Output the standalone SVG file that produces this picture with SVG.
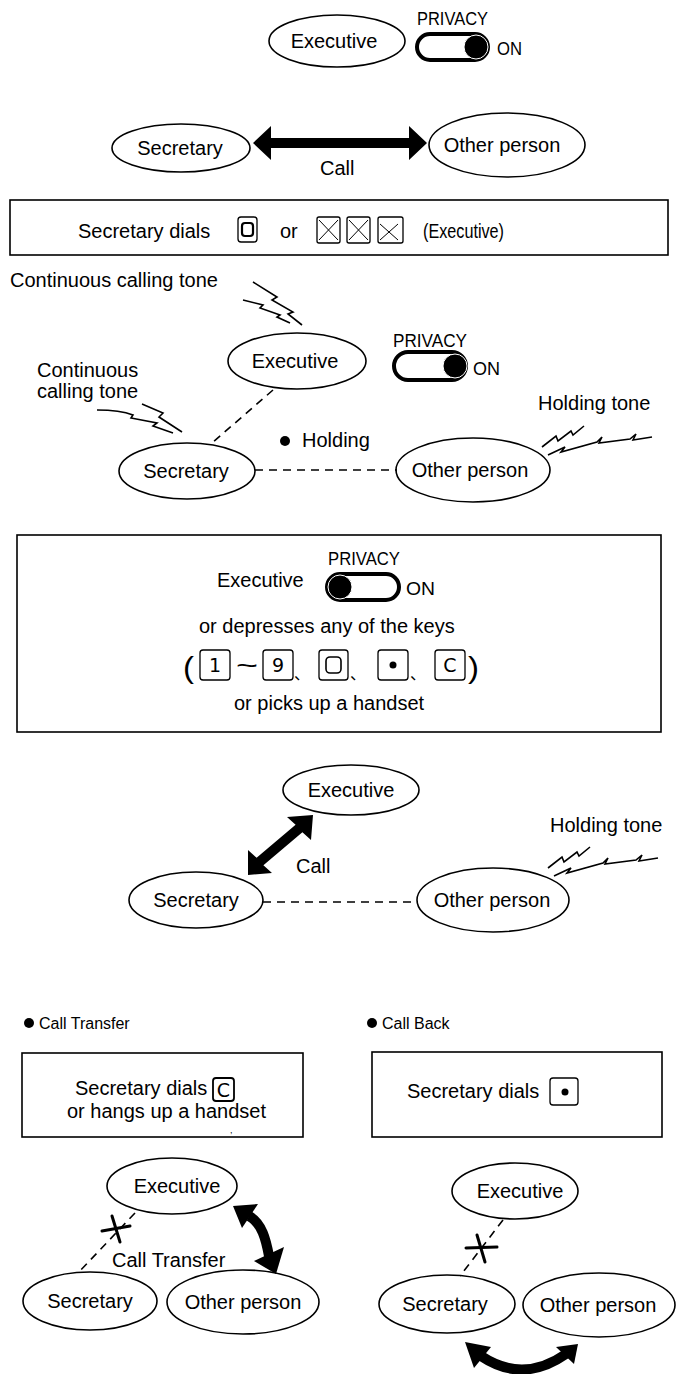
<svg xmlns="http://www.w3.org/2000/svg" width="678" height="1374" viewBox="0 0 678 1374">
<style>
text{font-family:"Liberation Sans",Arial,"Noto Sans CJK JP",sans-serif;fill:#000}
.lbl{font-size:20px;text-anchor:middle}
.t{font-size:20px}
.hd{font-size:16px}
.sm{font-size:18px}
.ell{fill:#fff;stroke:#000;stroke-width:1.6}
.box{fill:none;stroke:#000;stroke-width:1.6}
.dash{fill:none;stroke:#000;stroke-width:1.6;stroke-dasharray:8 6}
.tone{fill:none;stroke:#000;stroke-width:1.6;stroke-linejoin:miter}
.tog{fill:#fff;stroke:#000;stroke-width:4}
.knob{fill:#000;stroke:#fff;stroke-width:1}
.key{fill:#fff;stroke:#000;stroke-width:1.3}
.kt{font-family:"DejaVu Sans",sans-serif;font-size:19px;text-anchor:middle}
.xm{stroke:#000;stroke-width:1}
.cut{stroke:#000;stroke-width:3;stroke-linecap:round}
.cjk{font-family:"Noto Sans CJK JP",sans-serif;font-size:16px}
</style>
<defs>
<g id="holdtone">
<path class="tone" d="M542 447 L556 436 L558 441 L571 431 L573 435 L584 426"/>
<path class="tone" d="M548 455 L565 447 L561 452 L597 442 L602 437 L599 443 L630 439 L636 434 L633 440 L652 437"/>
</g>
</defs>

<!-- Section 0: Executive with privacy ON -->
<g id="exec-top">
<ellipse class="ell" cx="337" cy="41" rx="68" ry="26"/>
<text class="lbl" x="334" y="48">Executive</text>
</g>
<g id="privacy-top">
<text class="sm" x="417" y="25" textLength="71" lengthAdjust="spacingAndGlyphs">PRIVACY</text>
<rect class="tog" x="417" y="34" width="71" height="26" rx="13"/>
<circle class="knob" cx="476" cy="47" r="12"/>
<text class="sm" x="497" y="55" textLength="25" lengthAdjust="spacingAndGlyphs">ON</text>
</g>

<!-- Section 1 -->
<g id="sec-1">
<ellipse class="ell" cx="181" cy="148" rx="69" ry="24"/>
<text class="lbl" x="180" y="155">Secretary</text>
</g>
<g id="other-1">
<ellipse class="ell" cx="507" cy="145" rx="78" ry="32"/>
<text class="lbl" x="502" y="152">Other person</text>
</g>
<text class="t" x="320" y="175">Call</text>
<g id="box-1">
<rect class="box" x="10" y="200" width="658" height="55"/>
<text class="t" x="78" y="238">Secretary dials</text>
<rect class="key" x="238" y="217" width="19" height="25" rx="3"/>
<rect x="242" y="223" width="11" height="13" rx="3" fill="none" stroke="#000" stroke-width="2.2"/>
<text class="t" x="280" y="238">or</text>
<rect class="key" x="317" y="217" width="23" height="26" rx="2"/>
<line class="xm" x1="319" y1="220" x2="338" y2="240"/><line class="xm" x1="338" y1="220" x2="319" y2="240"/>
<rect class="key" x="347" y="217" width="23" height="26" rx="2"/>
<line class="xm" x1="349" y1="220" x2="368" y2="240"/><line class="xm" x1="368" y1="220" x2="349" y2="240"/>
<rect class="key" x="378" y="217" width="25" height="26" rx="2"/>
<line class="xm" x1="380" y1="224" x2="398" y2="240"/><line class="xm" x1="398" y1="224" x2="380" y2="240"/>
<text class="t" x="423" y="238" textLength="81" lengthAdjust="spacingAndGlyphs">(Executive)</text>
</g>

<!-- Section 2 -->
<g id="exec-2">
<ellipse class="ell" cx="297" cy="361" rx="69" ry="28"/>
<text class="lbl" x="295" y="368">Executive</text>
</g>
<g id="sec-2">
<ellipse class="ell" cx="187" cy="471" rx="68" ry="28"/>
<text class="lbl" x="186" y="478">Secretary</text>
</g>
<g id="other-2">
<ellipse class="ell" cx="473" cy="470" rx="77" ry="32"/>
<text class="lbl" x="470" y="477">Other person</text>
</g>
<g id="privacy-2">
<text class="sm" x="393" y="347" textLength="74" lengthAdjust="spacingAndGlyphs">PRIVACY</text>
<rect class="tog" x="394" y="352" width="72" height="28" rx="14"/>
<circle class="knob" cx="455" cy="366" r="12"/>
<text class="sm" x="473" y="375" textLength="27" lengthAdjust="spacingAndGlyphs">ON</text>
</g>
<g id="labels-2">
<text class="t" x="10" y="287">Continuous calling tone</text>
<text class="t" x="37" y="377">Continuous</text>
<text class="t" x="37" y="398">calling tone</text>
<circle cx="285" cy="441" r="5" fill="#000"/>
<text class="t" x="302" y="447">Holding</text>
<text class="t" x="538" y="410">Holding tone</text>
</g>
<g id="tones-2">
<path class="tone" d="M253 282 L277 297 L272 300 L293 312 L288 314 L302 325"/>
<path class="tone" d="M243 300 L263 305 L260 308 L280 315 L277 317 L290 323"/>
<path class="tone" d="M97 410 Q120 410 133 415 L131 418 L157 423 L153 426 L173 433"/>
<path class="tone" d="M142 404 L163 413 L159 417 L182 432"/>
<use href="#holdtone"/>
</g>

<!-- Section 3: privacy off box -->
<g id="box-2">
<rect class="box" x="17" y="535" width="644" height="197"/>
<text class="t" x="217" y="587">Executive</text>
<text class="sm" x="328" y="565" textLength="72" lengthAdjust="spacingAndGlyphs">PRIVACY</text>
<rect class="tog" x="327" y="574" width="72" height="26" rx="13"/>
<circle class="knob" cx="340" cy="587" r="12"/>
<text class="sm" x="406" y="595" textLength="29" lengthAdjust="spacingAndGlyphs">ON</text>
<text class="t" x="199" y="633">or depresses any of the keys</text>
<text style="font-size:30px" x="183" y="678" textLength="11" lengthAdjust="spacingAndGlyphs">(</text>
<rect class="key" x="200" y="650" width="30" height="30" rx="3"/>
<text class="kt" x="215" y="672">1</text>
<text style="font-size:26px" x="236" y="674" textLength="22" lengthAdjust="spacingAndGlyphs">~</text>
<rect class="key" x="263" y="650" width="30" height="30" rx="3"/>
<text class="kt" x="278" y="672">9</text>
<text class="cjk" x="294" y="679">、</text>
<rect class="key" x="319" y="650" width="29" height="30" rx="3"/>
<rect x="326" y="657" width="15" height="16" rx="4" fill="none" stroke="#000" stroke-width="1.6"/>
<text class="cjk" x="350" y="679">、</text>
<rect class="key" x="378" y="650" width="30" height="30" rx="3"/>
<circle cx="393" cy="665" r="3.5" fill="#000"/>
<text class="cjk" x="410" y="679">、</text>
<rect class="key" x="435" y="650" width="30" height="30" rx="3"/>
<text class="kt" x="450" y="672">C</text>
<text style="font-size:30px" x="468" y="678" textLength="11" lengthAdjust="spacingAndGlyphs">)</text>
<text class="t" x="234" y="710">or picks up a handset</text>
</g>

<!-- Section 4 -->
<g id="exec-3">
<ellipse class="ell" cx="351" cy="790" rx="68" ry="25"/>
<text class="lbl" x="351" y="797">Executive</text>
</g>
<g id="sec-3">
<ellipse class="ell" cx="196" cy="900" rx="67" ry="28"/>
<text class="lbl" x="196" y="907">Secretary</text>
</g>
<g id="other-3">
<ellipse class="ell" cx="493" cy="900" rx="76" ry="32"/>
<text class="lbl" x="492" y="907">Other person</text>
</g>
<g id="labels-3">
<text class="t" x="296" y="873">Call</text>
<text class="t" x="550" y="832">Holding tone</text>
</g>
<g id="tones-3">
<use href="#holdtone" transform="translate(6,421)"/>
</g>

<!-- Section 5 headers -->
<g id="headers">
<circle cx="29" cy="1023" r="5" fill="#000"/>
<text class="hd" x="39" y="1029">Call Transfer</text>
<circle cx="372" cy="1023" r="5" fill="#000"/>
<text class="hd" x="382" y="1029">Call Back</text>
</g>
<g id="box-3">
<rect class="box" x="22" y="1053" width="281" height="84"/>
<text class="t" x="75" y="1095">Secretary dials</text>
<rect class="key" x="213" y="1078" width="21" height="23" rx="3" style="stroke-width:1.8"/>
<text class="kt" x="223.5" y="1097">C</text>
<text class="t" x="67" y="1118">or hangs up a handset</text>
<text style="font-size:9px" x="230" y="1133">,</text>
</g>
<g id="box-4">
<rect class="box" x="372" y="1052" width="290" height="85"/>
<text class="t" x="407" y="1098">Secretary dials</text>
<rect class="key" x="550" y="1078" width="28" height="27" rx="3"/>
<circle cx="565" cy="1092" r="3.5" fill="#000"/>
</g>
<g id="exec-4">
<ellipse class="ell" cx="172" cy="1186" rx="65" ry="28"/>
<text class="lbl" x="177" y="1193">Executive</text>
</g>
<g id="sec-4">
<ellipse class="ell" cx="90" cy="1301" rx="67" ry="29"/>
<text class="lbl" x="90" y="1308">Secretary</text>
</g>
<g id="other-4">
<ellipse class="ell" cx="243" cy="1302" rx="76" ry="32"/>
<text class="lbl" x="243" y="1309">Other person</text>
</g>
<text class="t" x="112" y="1267">Call Transfer</text>
<g id="exec-5">
<ellipse class="ell" cx="515" cy="1191" rx="63" ry="28"/>
<text class="lbl" x="520" y="1198">Executive</text>
</g>
<g id="sec-5">
<ellipse class="ell" cx="447" cy="1304" rx="68" ry="29"/>
<text class="lbl" x="445" y="1311">Secretary</text>
</g>
<g id="other-5">
<ellipse class="ell" cx="599" cy="1305" rx="76" ry="32"/>
<text class="lbl" x="598" y="1312">Other person</text>
</g>

<!-- Connectors -->
<g id="connectors">
<polygon fill="#000" points="253,143 271,126 271,138 409,138 409,126 427,143 409,160 409,148 271,148 271,160"/>
<line class="dash" x1="273" y1="390" x2="212" y2="443"/>
<line class="dash" x1="255" y1="470" x2="397" y2="470"/>
<polygon fill="#000" points="313,815 311,840 302.4,832.2 263.4,865.2 272,873 248,875 248,850 256.6,857.8 295.6,824.8 287,817"/>
<line class="dash" x1="263" y1="902" x2="418" y2="902"/>
<line class="dash" x1="135" y1="1213" x2="78" y2="1273"/>
<line class="cut" x1="102" y1="1231" x2="130" y2="1226"/>
<line class="cut" x1="112" y1="1216" x2="120" y2="1242"/>
<path d="M249 1216 C262 1223 266 1240 269 1256" fill="none" stroke="#000" stroke-width="10"/>
<polygon fill="#000" points="233,1206 258,1204 242,1228"/>
<polygon fill="#000" points="254,1261 284,1247 276,1274"/>
<line class="dash" x1="503" y1="1220" x2="460" y2="1276"/>
<line class="cut" x1="466" y1="1248" x2="497" y2="1247"/>
<line class="cut" x1="477" y1="1235" x2="485" y2="1262"/>
<path d="M481 1356 Q523 1384 566 1354" fill="none" stroke="#000" stroke-width="10"/>
<polygon fill="#000" points="465,1342 491,1347 474,1368"/>
<polygon fill="#000" points="578,1344 556,1347 574,1364"/>
</g>
</svg>
